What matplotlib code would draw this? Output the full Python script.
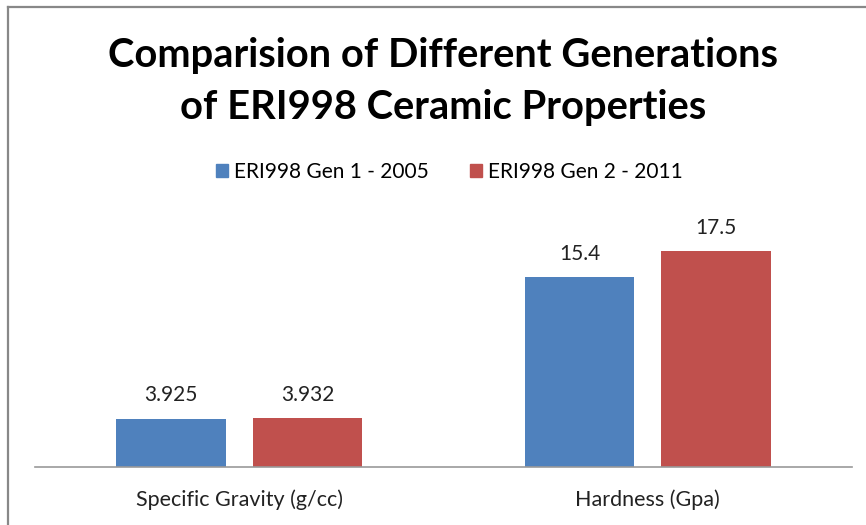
import matplotlib
matplotlib.use("Agg")
import matplotlib.pyplot as plt
from matplotlib.lines import Line2D
from matplotlib.patches import Patch
import numpy as np

categories = ["Specific Gravity (g/cc)", "Hardness (Gpa)"]
series_names = ["ERI998 Gen 1 - 2005", "ERI998 Gen 2 - 2011"]
gen1 = [3.925, 15.4]
gen2 = [3.932, 17.5]
labels1 = ["3.925", "15.4"]
labels2 = ["3.932", "17.5"]

blue = "#4F81BD"
red = "#C0504D"
font = "Lato"
tcol = "#222222"

W, H = 866, 525
fig = plt.figure(figsize=(W / 100, H / 100), dpi=100)
ax = fig.add_axes([35 / W, 1 - 467 / H, (852 - 35) / W, 247 / H])

x = np.arange(len(categories))
bw = 0.267
off = 0.167
ax.bar(x - off, gen1, bw, color=blue, label=series_names[0])
ax.bar(x + off, gen2, bw, color=red, label=series_names[1])

for xi, v, t in zip(x - off, gen1, labels1):
    ax.annotate(t, (xi, v), xytext=(0, 9.5), textcoords="offset points",
                ha="center", va="bottom", fontsize=15, family=font, color=tcol)
for xi, v, t in zip(x + off, gen2, labels2):
    ax.annotate(t, (xi, v), xytext=(0, 9.5), textcoords="offset points",
                ha="center", va="bottom", fontsize=15, family=font, color=tcol)

ax.set_xlim(-0.5, 1.5)
ax.set_ylim(0, 20)
ax.set_yticks([])
ax.set_xticks(x)
ax.set_xticklabels(categories, family=font, fontsize=15.5, color=tcol)
ax.tick_params(axis="x", length=0, pad=16)
for s in ["left", "right", "top"]:
    ax.spines[s].set_visible(False)
ax.spines["bottom"].set_color("#999999")
ax.spines["bottom"].set_linewidth(1.2)

fig.text(443 / W, 1 - 82 / H, "Comparision of Different Generations\nof ERI998 Ceramic Properties",
         ha="center", va="center", fontsize=28.7, fontweight="bold", family=font,
         linespacing=1.5)

handles = [Patch(color=blue), Patch(color=red)]
fig.legend(handles, series_names, loc="center", bbox_to_anchor=(449.5 / W, 1 - 172 / H),
           ncol=2, frameon=False, prop={"family": font, "size": 15},
           handlelength=0.55, handleheight=0.55, handletextpad=0.3, columnspacing=2.0)

fig.add_artist(Line2D([8 / W, 8 / W], [0, 1 - 7 / H], color="#888888", lw=1.6))
fig.add_artist(Line2D([8 / W, 1], [1 - 7 / H, 1 - 7 / H], color="#888888", lw=1.6))

fig.savefig("out.png", dpi=100)
